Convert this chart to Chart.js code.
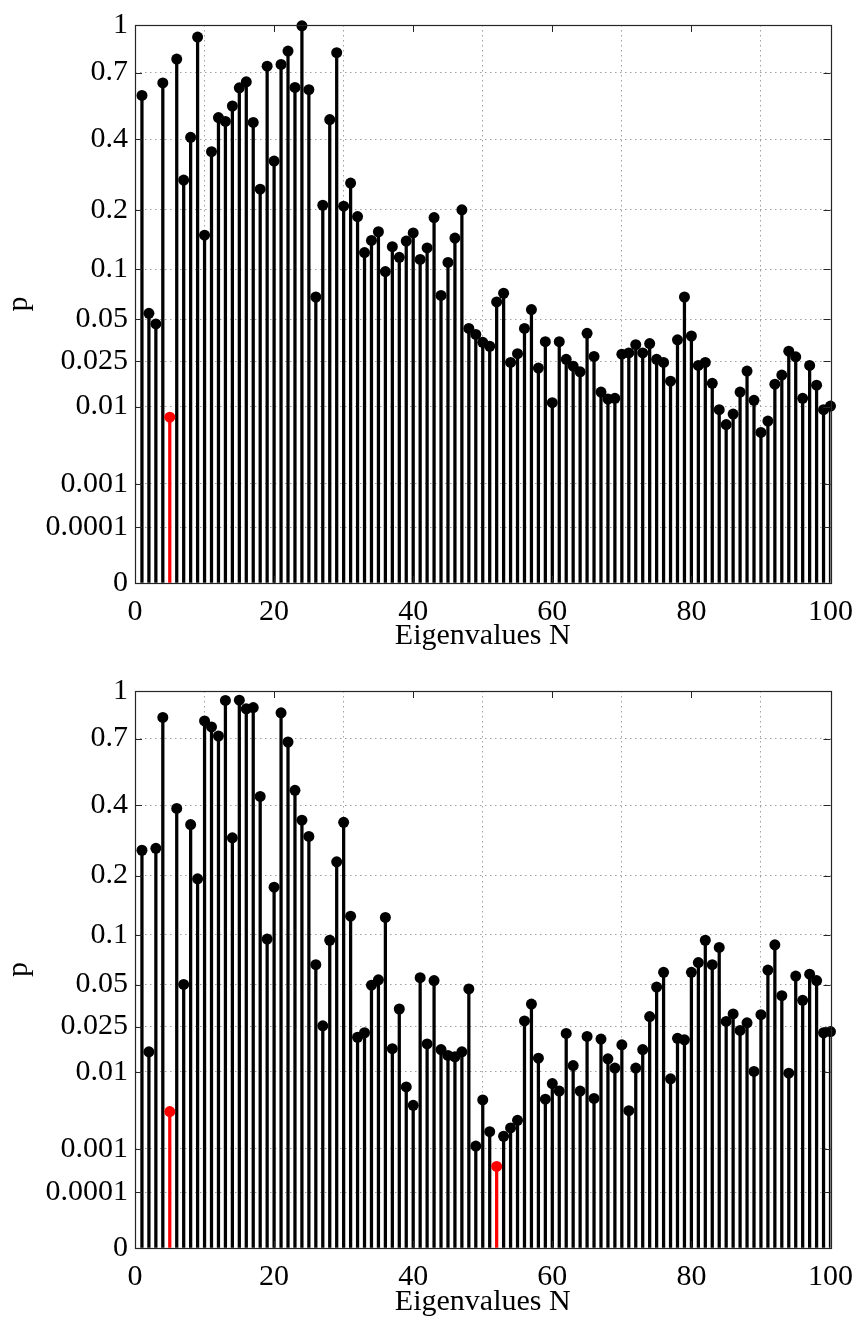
<!DOCTYPE html>
<html>
<head>
<meta charset="utf-8">
<script src="https://cdn.jsdelivr.net/npm/chart.js@4/dist/chart.umd.min.js"></script>
<style>
  html, body { margin: 0; padding: 0; background: #ffffff; }
  body { width: 864px; height: 1321px; position: relative; overflow: hidden; }
  .panel { position: absolute; left: 0; width: 864px; height: 655px; }
  #panelTop { top: 0; }
  #panelBottom { top: 666px; }
</style>
</head>
<body>
<div class="panel" id="panelTop"><canvas id="chartTop" width="864" height="655"></canvas></div>
<div class="panel" id="panelBottom"><canvas id="chartBottom" width="864" height="655"></canvas></div>
<script>
// ---------------- data ----------------
const eigenIndex = Array.from({ length: 100 }, (_, i) => i + 1);

const pTop = [
  0.583, 0.0546, 0.0465, 0.645, 0.0078, 0.777, 0.272, 0.407, 0.916, 0.151,
  0.357, 0.484, 0.468, 0.534, 0.620, 0.651, 0.464, 0.248, 0.736, 0.327,
  0.746, 0.826, 0.622, 0.994, 0.611, 0.069, 0.210, 0.476, 0.816, 0.208,
  0.264, 0.186, 0.123, 0.142, 0.157, 0.097, 0.132, 0.116, 0.141, 0.155,
  0.113, 0.130, 0.184, 0.0705, 0.109, 0.146, 0.200, 0.0433, 0.0394, 0.0346,
  0.0324, 0.0644, 0.0727, 0.0244, 0.0285, 0.0433, 0.0577, 0.0220, 0.0350, 0.0109,
  0.0350, 0.0258, 0.0228, 0.0205, 0.0401, 0.0272, 0.0137, 0.0118, 0.0120, 0.0283,
  0.0289, 0.0333, 0.0289, 0.0339, 0.0258, 0.0244, 0.0171, 0.0361, 0.0690, 0.0384,
  0.0231, 0.0244, 0.0164, 0.0093, 0.0065, 0.0084, 0.0137, 0.0208, 0.0115, 0.0053,
  0.0071, 0.0161, 0.0193, 0.0298, 0.0270, 0.0120, 0.0231, 0.0158, 0.0093, 0.0101
];

const pBottom = [
  0.260, 0.0154, 0.265, 0.823, 0.0036, 0.388, 0.0501, 0.334, 0.193, 0.802,
  0.766, 0.714, 0.934, 0.294, 0.936, 0.878, 0.886, 0.432, 0.0946, 0.176,
  0.852, 0.681, 0.456, 0.348, 0.298, 0.0669, 0.0253, 0.0932, 0.231, 0.341,
  0.126, 0.0205, 0.0223, 0.0496, 0.0537, 0.124, 0.0164, 0.0339, 0.0070, 0.0043,
  0.0555, 0.0180, 0.0531, 0.0161, 0.0143, 0.0139, 0.0154, 0.0468, 0.00112, 0.0050,
  0.0019, 0.00046, 0.00162, 0.00216, 0.00276, 0.0276, 0.0368, 0.0135, 0.0051, 0.0076,
  0.0063, 0.0220, 0.0115, 0.0063, 0.0208, 0.0052, 0.0198, 0.0133, 0.0109, 0.0177,
  0.0037, 0.0109, 0.0161, 0.0298, 0.0482, 0.0600, 0.0085, 0.0201, 0.0195, 0.0600,
  0.0690, 0.0932, 0.0669, 0.0848, 0.0274, 0.0312, 0.0233, 0.0267, 0.0101, 0.0308,
  0.0620, 0.0878, 0.0421, 0.0097, 0.0568, 0.0391, 0.0584, 0.0531, 0.0223, 0.0228
];

const highlightTop = [5];
const highlightBottom = [5, 52];

const yTickValues = [0, 0.0001, 0.001, 0.01, 0.025, 0.05, 0.1, 0.2, 0.4, 0.7, 1];
const yTickLabels = ['0', '0.0001', '0.001', '0.01', '0.025', '0.05', '0.1', '0.2', '0.4', '0.7', '1'];
const xTickValues = [0, 20, 40, 60, 80, 100];

const xTitle = 'Eigenvalues N';
const yTitle = 'p';

// ---------------- helpers ----------------
const toAxis = p => Math.pow(p, 0.25);   // the axis is p^(1/4)
const FONT = '"Liberation Serif", "Times New Roman", serif';
const BLACK = '#000000';
const RED = '#ff0000';
const BOX = '#262626';

const framePlugin = {
  id: 'frame',
  afterDatasetsDraw(chart) {
    const { ctx, chartArea: a, scales } = chart;
    ctx.save();
    ctx.strokeStyle = BOX;
    ctx.lineWidth = 1;
    const tl = 7;
    ctx.beginPath();
    yTickValues.forEach(v => {
      const y = Math.round(scales.y.getPixelForValue(toAxis(v))) + 0.5;
      ctx.moveTo(a.left, y); ctx.lineTo(a.left + tl, y);
      ctx.moveTo(a.right, y); ctx.lineTo(a.right - tl, y);
    });
    xTickValues.forEach(v => {
      const x = Math.round(scales.x.getPixelForValue(v)) + 0.5;
      ctx.moveTo(x, a.top); ctx.lineTo(x, a.top + tl);
      ctx.moveTo(x, a.bottom); ctx.lineTo(x, a.bottom - tl);
    });
    ctx.stroke();
    ctx.lineWidth = 1.2;
    ctx.strokeRect(Math.round(a.left) + 0.5, Math.round(a.top) + 0.5,
                   Math.round(a.right - a.left), Math.round(a.bottom - a.top));
    ctx.restore();
  }
};

function makeChart(canvasId, values, highlight, xAxisHeight) {
  const colors = eigenIndex.map(n => highlight.includes(n) ? RED : BLACK);
  const pts = eigenIndex.map((n, i) => ({ x: n, y: toAxis(values[i]) }));
  return new Chart(document.getElementById(canvasId), {
    type: 'bar',
    data: {
      datasets: [
        {
          type: 'line',
          data: pts,
          showLine: false,
          pointRadius: 5.5,
          pointHoverRadius: 5.5,
          pointBorderWidth: 0,
          pointBackgroundColor: colors,
          pointBorderColor: colors,
          clip: false,
          order: 0
        },
        {
          type: 'bar',
          data: pts,
          backgroundColor: colors,
          borderWidth: 0,
          barThickness: 2.6,
          order: 1
        }
      ]
    },
    plugins: [framePlugin],
    options: {
      responsive: false,
      animation: false,
      events: [],
      layout: { padding: { top: 18, right: 31, left: 0, bottom: 0 } },
      plugins: { legend: { display: false }, tooltip: { enabled: false } },
      scales: {
        x: {
          type: 'linear',
          min: 0, max: 100,
          offset: false,
          afterBuildTicks: s => { s.ticks = xTickValues.map(v => ({ value: v })); },
          afterFit: s => { s.height = xAxisHeight; },
          ticks: {
            autoSkip: false, maxRotation: 0, padding: 11,
            color: BLACK, font: { family: FONT, size: 30 }
          },
          grid: {
            drawTicks: false, color: '#a0a0a0', lineWidth: 1,
            borderDash: [1.5, 3.5]
          },
          border: { display: false, dash: [1.5, 3.5] },
          title: {
            display: true, text: xTitle, color: BLACK,
            font: { family: FONT, size: 30, lineHeight: 1.2 },
            padding: { top: 0, bottom: 1 }
          }
        },
        y: {
          type: 'linear',
          min: 0, max: 1,
          afterBuildTicks: s => { s.ticks = yTickValues.map(v => ({ value: toAxis(v) })); },
          afterFit: s => { s.width = 135; },
          ticks: {
            autoSkip: false, padding: 7, color: BLACK,
            font: { family: FONT, size: 30 },
            callback: (value, index) => yTickLabels[index]
          },
          grid: {
            drawTicks: false, color: '#a0a0a0', lineWidth: 1,
            borderDash: [1.5, 3.5]
          },
          border: { display: false, dash: [1.5, 3.5] },
          title: {
            display: true, text: yTitle, color: BLACK,
            font: { family: FONT, size: 30, lineHeight: 1.2 },
            padding: { top: 1, bottom: 0 }
          }
        }
      }
    }
  });
}

makeChart('chartTop', pTop, highlightTop, 72);
makeChart('chartBottom', pBottom, highlightBottom, 73);
</script>
</body>
</html>
